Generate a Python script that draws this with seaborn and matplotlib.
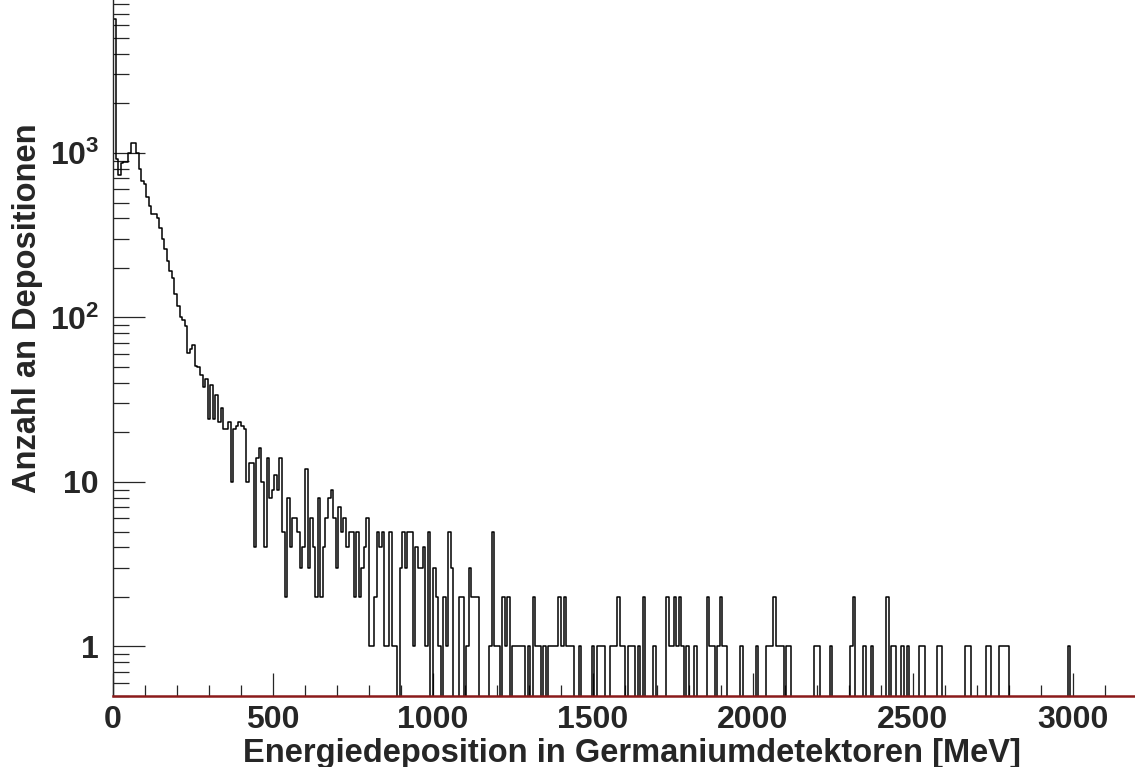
import numpy as np
import pandas as pd
import matplotlib
matplotlib.use("Agg")
import matplotlib.pyplot as plt
import seaborn as sns
from matplotlib.ticker import FixedLocator, FixedFormatter, MultipleLocator, LogLocator, NullFormatter

# Histogramm: 400 Bins zu je 8 MeV (0 - 3200 MeV)
bin_breite = 8
x_max = 3200

counts_000 = [6500, 920, 735, 870, 880, 880, 1000, 1150, 1150, 1000,
              800, 680, 645, 540, 476, 427, 427, 400, 350, 300,
              260, 221, 193, 175, 138, 118, 101, 96, 89, 61,
              64, 68, 51, 50, 45, 38, 42, 24, 39, 24,
              34, 23, 28, 21, 21, 23, 10, 21, 22, 23]
counts_050 = [22, 21, 10, 13, 13, 4, 14, 16, 10, 4,
              14, 8, 9, 11, 9, 14, 5, 2, 8, 4,
              6, 6, 5, 3, 4, 12, 3, 6, 4, 2,
              8, 2, 4, 6, 8, 9, 6, 3, 7, 5,
              6, 4, 5, 5, 2, 5, 2, 3, 4, 6]
counts_100 = [1, 1, 2, 5, 4, 5, 1, 1, 5, 1,
              1, 0, 3, 5, 3, 5, 5, 1, 4, 3,
              3, 4, 1, 5, 0, 3, 2, 1, 0, 2,
              1, 5, 3, 0, 0, 2, 2, 0, 1, 3,
              2, 2, 2, 0, 0, 0, 0, 1, 5, 1]
counts_150 = [1, 0, 2, 1, 2, 0, 1, 1, 1, 1,
              1, 0, 1, 0, 2, 1, 1, 0, 1, 0,
              1, 1, 1, 1, 2, 1, 2, 1, 1, 1,
              0, 0, 1, 0, 0, 0, 0, 1, 0, 1,
              1, 1, 0, 0, 1, 1, 1, 2, 1, 1]
counts_200 = [0, 1, 1, 1, 0, 1, 0, 2, 0, 0,
              0, 1, 0, 0, 0, 0, 2, 1, 1, 2,
              1, 2, 1, 0, 1, 0, 0, 1, 0, 0,
              0, 0, 2, 1, 1, 0, 1, 2, 1, 1,
              0, 0, 0, 0, 0, 1, 0, 0, 0, 0]
counts_250 = [0, 1, 0, 0, 0, 1, 1, 1, 2, 1,
              1, 1, 0, 1, 1, 0, 0, 0, 0, 0,
              0, 0, 0, 0, 1, 1, 0, 0, 0, 0,
              1, 0, 0, 0, 0, 0, 0, 0, 1, 2,
              0, 0, 0, 1, 0, 0, 1, 0, 0, 0]
counts_300 = [0, 0, 2, 0, 1, 1, 0, 0, 1, 0,
              1, 0, 0, 0, 0, 1, 1, 0, 0, 0,
              0, 0, 1, 1, 0, 0, 0, 0, 0, 0,
              0, 0, 0, 1, 1, 0, 0, 0, 0, 0,
              0, 1, 1, 0, 0, 0, 1, 1, 1, 1]
counts_350 = [0, 0, 0, 0, 0, 0, 0, 0, 0, 0,
              0, 0, 0, 0, 0, 0, 0, 0, 0, 0,
              0, 0, 0, 1, 0, 0, 0, 0, 0, 0,
              0, 0, 0, 0, 0, 0, 0, 0, 0, 0,
              0, 0, 0, 0, 0, 0, 0, 0, 0, 0]

counts = (counts_000 + counts_050 + counts_100 + counts_150 + counts_200
          + counts_250 + counts_300 + counts_350)
energie = np.arange(len(counts)) * bin_breite + bin_breite / 2
df = pd.DataFrame({"energie": energie, "anzahl": counts})

y_ticks = [1, 10, 100, 1000]
y_labels = ["1", "10", r"$\mathbf{10^{2}}$", r"$\mathbf{10^{3}}$"]

sns.set_style("ticks")
plt.rcParams["font.family"] = ["Liberation Sans", "DejaVu Sans"]
plt.rcParams["font.weight"] = "bold"
plt.rcParams["mathtext.fontset"] = "custom"
plt.rcParams["mathtext.bf"] = "Liberation Sans:bold"
plt.rcParams["mathtext.rm"] = "Liberation Sans:bold"

fig = plt.figure(figsize=(11.35, 7.67), dpi=100)
ax = fig.add_axes([113 / 1135, 71 / 767, 1024 / 1135, 696 / 767])

sns.histplot(data=df, x="energie", weights="anzahl", binwidth=bin_breite,
             binrange=(0, x_max), element="step", fill=False, color="black",
             linewidth=1.1, ax=ax)

ax.set_yscale("log")
ax.set_xlim(0, x_max)
ax.set_ylim(0.5, 0.5 * 10 ** (696 / 164.5))

ax.yaxis.set_major_locator(FixedLocator(y_ticks))
ax.yaxis.set_major_formatter(FixedFormatter(y_labels))
ax.yaxis.set_minor_locator(LogLocator(base=10, subs=np.arange(2, 10)))
ax.yaxis.set_minor_formatter(NullFormatter())
ax.xaxis.set_major_locator(MultipleLocator(500))
ax.xaxis.set_minor_locator(MultipleLocator(100))

ax.tick_params(axis="y", which="major", direction="in", length=23, width=0.9,
               labelsize=23, pad=10)
ax.tick_params(axis="y", which="minor", direction="in", length=11.5, width=0.9)
ax.tick_params(axis="x", which="major", direction="in", length=16.5, width=0.9,
               labelsize=23, pad=6.5)
ax.tick_params(axis="x", which="minor", direction="in", length=8, width=0.9)

for s in ["top", "right"]:
    ax.spines[s].set_visible(False)
ax.spines["left"].set_linewidth(1.0)
ax.spines["bottom"].set_color("#8b1a1a")
ax.spines["bottom"].set_linewidth(1.8)

ax.set_xlabel("Energiedeposition in Germaniumdetektoren [MeV]", fontsize=23.5,
              fontweight="bold", va="baseline")
ax.xaxis.set_label_coords(0.507, (696 - 762) / 696)
ax.set_ylabel("Anzahl an Depositionen", fontsize=23.5, fontweight="bold")
ax.yaxis.set_label_coords((43 - 113) / 1024, 0.557)

fig.savefig("out.png", dpi=100)
